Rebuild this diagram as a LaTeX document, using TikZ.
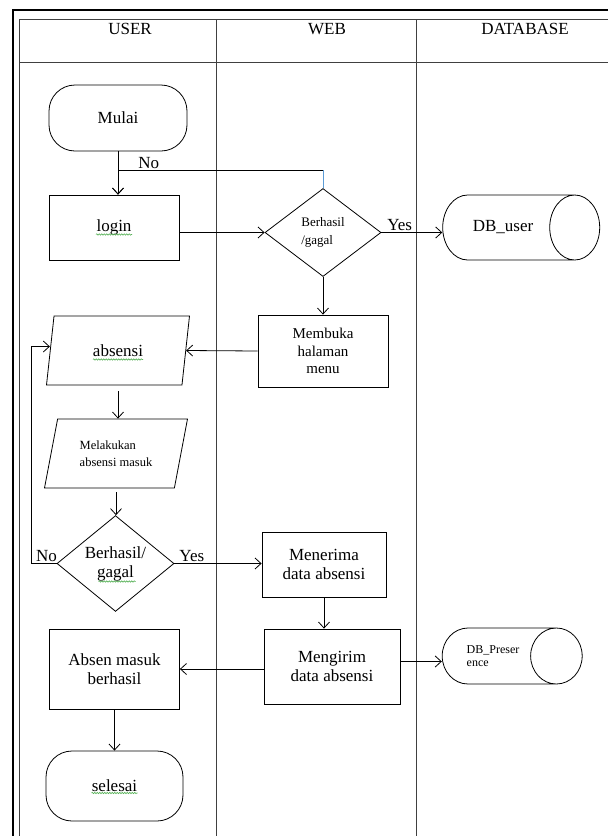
\documentclass[tikz,border=0pt]{standalone}
\usepackage{fontspec}
\setmainfont{Liberation Serif}
\usepackage{xcolor}
\definecolor{squig}{rgb}{0.35,0.7,0.35}
\definecolor{nolink}{rgb}{0.36,0.61,0.84}
\usepackage{tikz}
\usetikzlibrary{calc,positioning,arrows.meta,shapes.geometric,decorations.pathmorphing}
\tikzset{
  lane/.style={draw=black!75, line width=0.9pt},
  frame/.style={draw=black, line width=2.2pt},
  head/.style={font=\fontsize{17}{19}\selectfont},
  lbl/.style={font=\fontsize{17}{19}\selectfont, inner sep=1.5pt},
  term/.style={rectangle, rounded corners=26pt, draw=black, line width=0.8pt, minimum width=138pt, minimum height=66pt, font=\fontsize{17}{19}\selectfont},
  prog/.style={rectangle, draw=black, line width=0.8pt, text centered, align=center, font=\fontsize{17}{19}\selectfont},
  dec/.style={diamond, draw=black, line width=0.8pt, inner sep=0pt, minimum width=116pt, minimum height=88pt, align=center},
  io/.style={trapezium, trapezium left angle=68, trapezium right angle=112, trapezium stretches body, draw=black, line width=0.8pt, minimum width=143pt, minimum height=69pt},
  db/.style={cylinder, draw=black, line width=0.8pt, align=left},
  line/.style={draw, line width=0.8pt, -{Straight Barb[length=6pt,width=11pt]}},
  squiggle/.style={draw=squig, line width=0.6pt, decorate, decoration={snake, amplitude=0.7pt, segment length=2.5pt}},
}
\begin{document}
\begin{tikzpicture}[x=1pt,y=-1pt]
\useasboundingbox (0,0) rectangle (608,836);
% swimlanes
\draw[frame] (13,836) -- (13,10) -- (608,10);
\draw[lane] (19,836) -- (19,19) -- (608,19);
\draw[lane] (19,62) -- (608,62);
\foreach \x in {216,416} \draw[lane] (\x,19) -- (\x,836);
\node[head] (huser) at (130,29) {USER};
\node[head] (hweb) at (327,29) {WEB};
\node[head] (hdb) at (525,29) {DATABASE};

% user lane
\node[term] (mulai) at (118,118) {Mulai};
\node[prog, minimum width=130pt, minimum height=65pt] (login) at (114,227.5) {login};
\node[io, font=\fontsize{17}{19}\selectfont] (absensi) at (118,350.5) {absensi};
\node[io, font=\fontsize{12.5}{17}\selectfont, align=left] (masuk) at (116,453.5) {Melakukan\\absensi masuk};
\node[dec, font=\fontsize{17}{19}\selectfont, minimum width=117pt, minimum height=85pt] (cek2) at (115.5,563.5) {Berhasil/\\gagal};
\node[prog, minimum width=130pt, minimum height=80pt] (absen) at (114.5,669) {Absen masuk\\berhasil};
\node[term, minimum width=137pt, minimum height=70pt] (selesai) at (114.5,786) {selesai};

% web lane
\node[dec, font=\fontsize{13}{18}\selectfont, align=left] (cek1) at (323,232.5) {Berhasil\\/gagal};
\node[prog, minimum width=130pt, minimum height=72pt, font=\fontsize{15}{17.5}\selectfont] (menu) at (323,351) {Membuka\\halaman\\menu};
\node[prog, minimum width=124pt, minimum height=65pt] (terima) at (324,564.5) {Menerima\\data absensi};
\node[prog, minimum width=136pt, minimum height=75pt] (kirim) at (332,666.5) {Mengirim\\data absensi};

% database lane (cylinder: width is across, height along the axis)
\node[db, minimum width=65pt, minimum height=157pt, aspect=2.5, font=\fontsize{17}{19}\selectfont] (dbuser) at (503,227.5) {DB\_user};
\node[db, minimum width=56pt, minimum height=140pt, aspect=1.9, font=\fontsize{12}{12.5}\selectfont] (dbpres) at (493,656) {DB\_Preser\\ence};

% spell-check marks
\draw[squiggle] ($(login.center)+(-18,7)$) -- ++(36,0);
\draw[squiggle] ($(absensi.center)+(-25,9)$) -- ++(50,0);
\draw[squiggle] ($(cek2.center)+(-17,18)$) -- ++(37,0);
\draw[squiggle] ($(selesai.center)+(-23,7)$) -- ++(46,0);

% connectors
\coordinate (nojoin) at ($(cek1.north)+(0,-18)$);
\path[line] (mulai.south) -- (mulai.south |- login.north);
\draw[nolink, line width=0.8pt] (cek1.north) -- (nojoin);
\path[line] (nojoin) -- node[lbl, above, pos=0.85] {No} (nojoin -| mulai.south) -- (mulai.south |- login.north);
\path[line] (login.east |- cek1.west) -- (cek1.west);
\path[line] (cek1.east) -- node[lbl, above, pos=0.3] {Yes} (cek1.east -| dbuser.west);
\path[line] (cek1.south) -- (menu.north);
\path[line] (menu.west) -- (absensi.east);
\path[line, shorten <=6pt] (absensi.south) -- (absensi.south |- masuk.north);
\path[line, shorten <=4pt] (masuk.south) -- (masuk.south |- cek2.north);
\path[line] (cek2.west) -- node[lbl, above, pos=0.4] {No} ++(-25,0) |- ([yshift=4pt]absensi.west);
\path[line] (cek2.east) -- node[lbl, above, pos=0.2] {Yes} (cek2.east -| terima.west);
\path[line] (terima.south) -- (terima.south |- kirim.north);
\path[line] (kirim.west |- absen.east) -- (absen.east);
\path[line] ([yshift=5pt]kirim.east) -- ([yshift=5pt]kirim.east -| dbpres.west);
\path[line] (absen.south) -- (selesai.north);
\end{tikzpicture}
\end{document}
